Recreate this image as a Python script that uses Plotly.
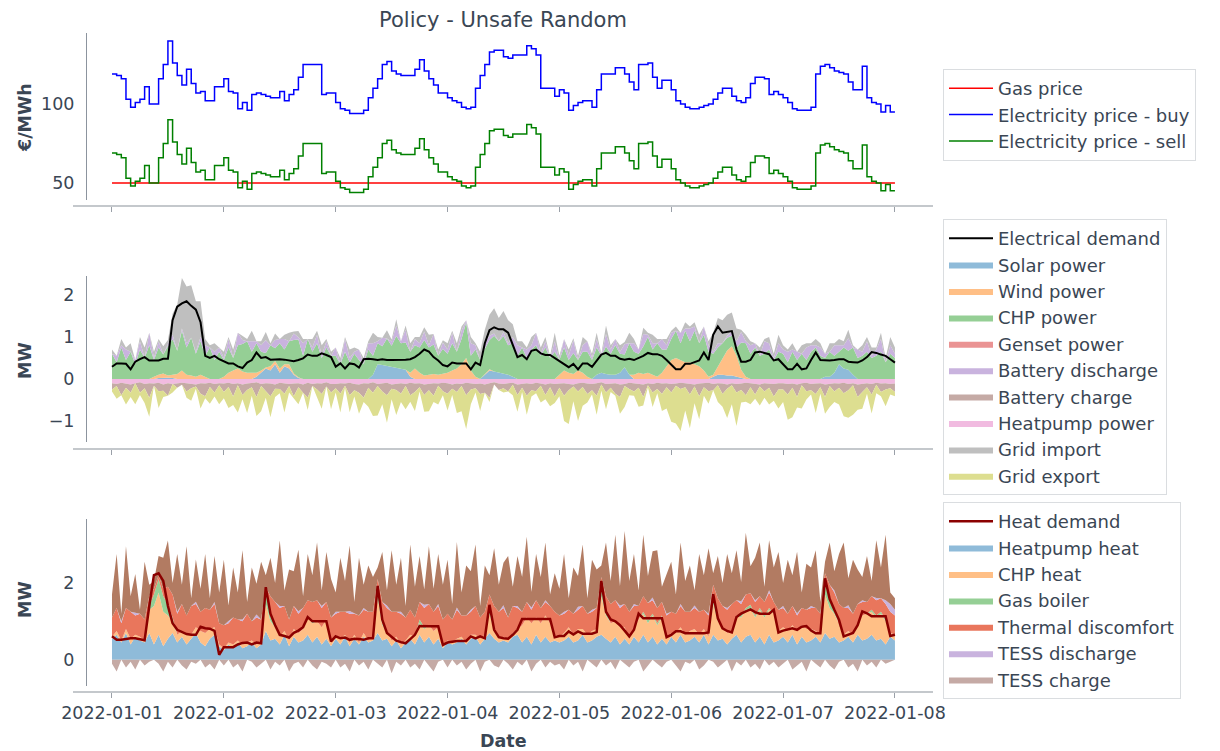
import pandas as pd
import plotly.graph_objects as go

# hourly timestamps, 2022-01-01 00:00 .. 2022-01-08 00:00
hours = pd.date_range("2022-01-01", periods=169, freq="h")

# ---- prices (EUR/MWh) ----
price_buy = [
    119, 118, 116, 103, 98, 101, 103, 111, 100, 100, 116, 125, 140, 126, 118, 112, 122, 113, 107, 108, 102, 102, 111, 111,
    116, 108, 107, 97, 101, 96, 106, 107, 106, 105, 104, 104, 108, 102, 106, 109, 117, 125, 125, 125, 125, 106, 107, 107,
    101, 97, 96, 94, 94, 94, 96, 104, 110, 116, 125, 127, 121, 119, 118, 118, 118, 122, 128, 121, 116, 112, 107, 107,
    104, 102, 101, 98, 97, 98, 110, 118, 125, 133, 134, 134, 130, 129, 131, 131, 131, 137, 135, 131, 110, 110, 110, 105,
    109, 107, 96, 99, 101, 102, 102, 98, 109, 119, 119, 119, 123, 123, 119, 114, 109, 125, 125, 126, 117, 110, 115, 115,
    109, 102, 100, 98, 97, 97, 98, 99, 100, 103, 107, 110, 110, 105, 102, 101, 104, 113, 117, 117, 116, 106, 108, 106,
    104, 101, 97, 96, 96, 96, 98, 119, 124, 125, 123, 121, 120, 119, 114, 109, 109, 124, 104, 101, 100, 95, 99, 95, 95,
]
price_sell = [
    69, 68, 66, 53, 48, 51, 53, 61, 50, 50, 66, 75, 90, 76, 68, 62, 72, 63, 57, 58, 52, 52, 61, 61,
    66, 58, 57, 47, 51, 46, 56, 57, 56, 55, 54, 54, 58, 52, 56, 59, 67, 75, 75, 75, 75, 56, 57, 57,
    51, 47, 46, 44, 44, 44, 46, 54, 60, 66, 75, 77, 71, 69, 68, 68, 68, 72, 78, 71, 66, 62, 57, 57,
    54, 52, 51, 48, 47, 48, 60, 68, 75, 83, 84, 84, 80, 79, 81, 81, 81, 87, 85, 81, 60, 60, 60, 55,
    59, 57, 46, 49, 51, 52, 52, 48, 59, 69, 69, 69, 73, 73, 69, 64, 59, 75, 75, 76, 67, 60, 65, 65,
    59, 52, 50, 48, 47, 47, 48, 49, 50, 53, 57, 60, 60, 55, 52, 51, 54, 63, 67, 67, 66, 56, 58, 56,
    54, 51, 47, 46, 46, 46, 48, 69, 74, 75, 73, 71, 70, 69, 64, 59, 59, 74, 54, 51, 50, 45, 49, 45, 45,
]
gas_dates = ["2022-01-01 00:00", "2022-01-08 00:00"]
gas_price = [50, 50]

# ---- electrical balance (MW) ----
elec_demand = [
    0.29, 0.37, 0.37, 0.36, 0.23, 0.41, 0.47, 0.52, 0.44, 0.44, 0.44, 0.48, 0.48, 1.40, 1.72, 1.80, 1.85, 1.74, 1.65, 1.35, 0.55, 0.50, 0.55, 0.47,
    0.41, 0.37, 0.37, 0.30, 0.26, 0.39, 0.45, 0.63, 0.50, 0.52, 0.46, 0.47, 0.47, 0.46, 0.44, 0.42, 0.45, 0.49, 0.58, 0.55, 0.55, 0.61, 0.57, 0.52,
    0.29, 0.37, 0.25, 0.37, 0.35, 0.27, 0.47, 0.48, 0.47, 0.45, 0.47, 0.45, 0.45, 0.45, 0.45, 0.46, 0.47, 0.52, 0.60, 0.70, 0.65, 0.52, 0.44, 0.33,
    0.30, 0.39, 0.37, 0.37, 0.37, 0.23, 0.39, 0.33, 0.85, 1.16, 1.23, 1.18, 1.18, 1.10, 0.80, 0.52, 0.57, 0.47, 0.67, 0.70, 0.61, 0.57, 0.57, 0.50,
    0.44, 0.35, 0.28, 0.36, 0.23, 0.37, 0.37, 0.29, 0.45, 0.58, 0.62, 0.55, 0.55, 0.48, 0.46, 0.48, 0.45, 0.50, 0.55, 0.62, 0.59, 0.59, 0.55, 0.45,
    0.35, 0.23, 0.23, 0.36, 0.36, 0.40, 0.44, 0.63, 0.45, 1.05, 1.25, 1.10, 1.12, 1.14, 0.70, 0.41, 0.41, 0.45, 0.63, 0.65, 0.62, 0.59, 0.44, 0.47,
    0.35, 0.23, 0.23, 0.36, 0.23, 0.25, 0.45, 0.63, 0.45, 0.44, 0.44, 0.45, 0.47, 0.47, 0.41, 0.40, 0.39, 0.44, 0.52, 0.64, 0.62, 0.58, 0.55, 0.47, 0.39,
]
solar_power = [
    0, 0, 0, 0, 0, 0, 0, 0, 0, 0, 0.02, 0.03, 0.03, 0.02, 0, 0, 0, 0, 0, 0, 0, 0, 0, 0,
    0, 0, 0, 0, 0, 0, 0, 0.05, 0.15, 0.25, 0.2, 0.35, 0.15, 0.3, 0.25, 0.1, 0.02, 0, 0, 0, 0, 0, 0, 0,
    0, 0, 0, 0, 0, 0, 0, 0, 0.1, 0.35, 0.33, 0.31, 0.29, 0.27, 0.25, 0.22, 0.05, 0, 0, 0, 0, 0, 0, 0,
    0, 0, 0, 0, 0, 0, 0, 0, 0.1, 0.2, 0.18, 0.15, 0.12, 0.1, 0.05, 0, 0, 0, 0, 0, 0, 0, 0, 0,
    0, 0, 0, 0, 0, 0, 0, 0, 0.1, 0.15, 0.12, 0.1, 0.1, 0.15, 0.28, 0.1, 0, 0, 0, 0, 0, 0, 0, 0,
    0, 0, 0, 0, 0, 0, 0, 0, 0, 0.05, 0.1, 0.1, 0.08, 0.08, 0.05, 0.02, 0, 0, 0, 0, 0, 0, 0, 0,
    0, 0, 0, 0, 0, 0, 0, 0, 0, 0.05, 0.05, 0.15, 0.35, 0.25, 0.22, 0.1, 0, 0, 0, 0, 0, 0, 0, 0, 0,
]
wind_power = [
    0, 0, 0, 0, 0, 0, 0, 0, 0, 0.05, 0.08, 0.1, 0.05, 0.08, 0.12, 0.2, 0.1, 0.08, 0.05, 0.1, 0.05, 0, 0, 0,
    0.05, 0.15, 0.2, 0.25, 0.18, 0.15, 0.15, 0.1, 0.05, 0.02, 0.1, 0.08, 0.1, 0.05, 0.1, 0.03, 0.02, 0, 0, 0, 0, 0, 0, 0,
    0, 0, 0, 0, 0, 0, 0, 0, 0, 0, 0, 0, 0, 0, 0, 0, 0.1, 0.25, 0.15, 0.08, 0.1, 0.12, 0.1, 0.12,
    0.15, 0.2, 0.25, 0.35, 0.5, 0.2, 0.05, 0, 0.02, 0.03, 0, 0, 0, 0, 0, 0, 0, 0, 0, 0, 0, 0, 0, 0,
    0.1, 0.2, 0.15, 0.12, 0.2, 0.15, 0.05, 0, 0, 0, 0, 0, 0, 0, 0, 0, 0.1, 0.15, 0.12, 0.15, 0.1, 0.05, 0.15, 0.3,
    0.45, 0.5, 0.45, 0.4, 0.4, 0.35, 0.3, 0.2, 0.05, 0.05, 0.2, 0.4, 0.6, 0.7, 0.5, 0.2, 0.05, 0, 0, 0, 0, 0, 0, 0,
    0, 0, 0, 0, 0, 0, 0, 0, 0, 0, 0, 0, 0, 0, 0, 0, 0, 0, 0, 0, 0, 0, 0, 0, 0,
]
chp_power = [
    0.6, 0.4, 0.75, 0.45, 0.65, 0.35, 0.7, 0.5, 0.8, 0.4, 0.65, 0.45, 0.7, 0.85, 0.55, 0.95, 0.65, 0.9, 0.55, 0.8, 0.5, 0.75, 0.45, 0.65,
    0.4, 0.6, 0.3, 0.55, 0.65, 0.75, 0.5, 0.7, 0.45, 0.35, 0.5, 0.3, 0.6, 0.35, 0.55, 0.8, 0.9, 0.55, 0.95, 0.65, 0.85, 0.5, 0.75, 0.55,
    0.55, 0.35, 0.65, 0.4, 0.6, 0.45, 0.35, 0.7, 0.45, 0.5, 0.45, 0.65, 0.5, 0.75, 0.6, 0.65, 0.5, 0.55, 0.6, 0.85, 0.65, 0.7, 0.45, 0.6,
    0.45, 0.65, 0.4, 0.6, 0.85, 0.35, 0.65, 0.45, 0.6, 0.7, 0.85, 0.75, 0.9, 0.7, 0.8, 0.55, 0.75, 0.5, 0.7, 0.8, 0.55, 0.75, 0.5, 0.65,
    0.35, 0.55, 0.3, 0.5, 0.25, 0.5, 0.6, 0.45, 0.65, 0.4, 0.65, 0.5, 0.7, 0.45, 0.3, 0.75, 0.55, 0.45, 0.65, 0.85, 0.6, 0.8, 0.55, 0.4,
    0.5, 0.65, 0.4, 0.75, 0.5, 0.8, 0.55, 0.85, 0.6, 0.5, 0.45, 0.35, 0.3, 0.25, 0.2, 0.65, 0.8, 0.6, 0.75, 0.55, 0.6, 0.7, 0.45, 0.65,
    0.6, 0.4, 0.65, 0.45, 0.6, 0.45, 0.65, 0.75, 0.55, 0.45, 0.6, 0.4, 0.3, 0.5, 0.45, 0.65, 0.5, 0.55, 0.65, 0.5, 0.55, 0.65, 0.4, 0.6, 0.5,
]
genset_power = [0.0] * 169
battery_discharge = [
    0, 0.15, 0.05, 0.25, 0, 0.1, 0.2, 0, 0.3, 0.05, 0.15, 0, 0.05, 0.1, 0, 0.05, 0.1, 0, 0.05, 0.1, 0.25, 0, 0.2, 0.1,
    0.05, 0.2, 0, 0.3, 0.1, 0, 0.25, 0.05, 0.15, 0.3, 0, 0.2, 0.1, 0.25, 0, 0.15, 0.05, 0.3, 0, 0.1, 0.2, 0.05, 0.15, 0,
    0.2, 0, 0.3, 0.1, 0.05, 0.25, 0, 0.15, 0.3, 0.05, 0.2, 0, 0.1, 0.25, 0.05, 0.3, 0, 0.15, 0.1, 0.2, 0.05, 0.25, 0, 0.15,
    0.1, 0.25, 0, 0.2, 0.05, 0.3, 0.1, 0, 0.15, 0.1, 0.05, 0, 0.1, 0.05, 0.15, 0.25, 0, 0.2, 0.1, 0.3, 0.05, 0.15, 0, 0.25,
    0, 0.2, 0.1, 0.3, 0, 0.15, 0.25, 0.05, 0.2, 0, 0.3, 0.1, 0.15, 0.05, 0.25, 0, 0.2, 0.1, 0.3, 0.05, 0.15, 0, 0.25, 0.1,
    0.15, 0, 0.25, 0.05, 0.3, 0.1, 0, 0.2, 0.15, 0.05, 0.1, 0, 0.05, 0.1, 0.15, 0.25, 0.05, 0.2, 0.1, 0, 0.3, 0.15, 0.05, 0.2,
    0.1, 0.25, 0.05, 0.2, 0, 0.3, 0.15, 0.05, 0.2, 0.1, 0, 0.25, 0.15, 0.05, 0.3, 0, 0.2, 0.1, 0.25, 0.05, 0.15, 0.3, 0, 0.2, 0.1,
]
grid_import = [
    0.1, 0, 0.15, 0.05, 0.2, 0, 0.1, 0.25, 0, 0.15, 0.05, 0.2, 0.1, 0.5, 1.1, 1.2, 1.35, 1.25, 1.2, 0.85, 0.15, 0.05, 0.2, 0,
    0.15, 0.05, 0.2, 0, 0.1, 0.05, 0.25, 0, 0.1, 0.2, 0.05, 0.15, 0, 0.1, 0.2, 0.05, 0.15, 0.1, 0, 0.2, 0.1, 0.25, 0.05, 0.1,
    0, 0.15, 0.05, 0.2, 0.1, 0, 0.15, 0.05, 0.25, 0.1, 0, 0.2, 0.05, 0.15, 0, 0.1, 0.2, 0.05, 0.15, 0.1, 0.25, 0, 0.15, 0.05,
    0.15, 0.05, 0.2, 0.1, 0, 0.15, 0.05, 0.2, 0.3, 0.5, 0.6, 0.55, 0.5, 0.55, 0.3, 0.1, 0.15, 0.05, 0.2, 0, 0.15, 0.1, 0.05, 0.2,
    0.1, 0, 0.15, 0.05, 0.1, 0.2, 0, 0.1, 0.15, 0.05, 0.2, 0.1, 0, 0.15, 0.05, 0.25, 0.1, 0, 0.15, 0.05, 0.2, 0.1, 0, 0.15,
    0.05, 0.1, 0, 0.15, 0.05, 0.1, 0.2, 0, 0.1, 0.45, 0.6, 0.55, 0.5, 0.45, 0.3, 0.05, 0.15, 0.1, 0, 0.2, 0.05, 0.15, 0.1, 0.2,
    0.1, 0.05, 0.15, 0, 0.2, 0.1, 0.05, 0.15, 0.1, 0, 0.2, 0.05, 0.15, 0.1, 0.2, 0.05, 0, 0.15, 0.1, 0.2, 0.05, 0.15, 0.1, 0.2, 0.15,
]
heatpump_power = [
    -0.1, -0.12, -0.09, -0.11, -0.13, -0.1, -0.08, -0.12, -0.1, -0.11, -0.09, -0.13, -0.1, -0.12, -0.11, -0.09, -0.1, -0.12, -0.13, -0.1, -0.11, -0.09, -0.12, -0.1,
    -0.11, -0.09, -0.12, -0.1, -0.13, -0.11, -0.1, -0.08, -0.12, -0.1, -0.11, -0.13, -0.09, -0.1, -0.12, -0.11, -0.1, -0.13, -0.09, -0.12, -0.1, -0.11, -0.08, -0.12,
    -0.12, -0.1, -0.11, -0.09, -0.12, -0.13, -0.1, -0.11, -0.08, -0.12, -0.1, -0.09, -0.13, -0.11, -0.1, -0.12, -0.09, -0.11, -0.1, -0.13, -0.12, -0.1, -0.11, -0.09,
    -0.1, -0.13, -0.11, -0.12, -0.09, -0.1, -0.12, -0.11, -0.13, -0.1, -0.08, -0.11, -0.12, -0.1, -0.09, -0.13, -0.11, -0.1, -0.12, -0.09, -0.11, -0.13, -0.1, -0.12,
    -0.11, -0.1, -0.12, -0.13, -0.1, -0.09, -0.11, -0.12, -0.1, -0.08, -0.12, -0.11, -0.1, -0.13, -0.12, -0.09, -0.1, -0.11, -0.13, -0.1, -0.12, -0.09, -0.11, -0.1,
    -0.12, -0.11, -0.09, -0.1, -0.12, -0.13, -0.11, -0.1, -0.09, -0.12, -0.1, -0.11, -0.13, -0.1, -0.12, -0.11, -0.09, -0.1, -0.12, -0.13, -0.1, -0.11, -0.12, -0.1,
    -0.1, -0.12, -0.11, -0.13, -0.1, -0.09, -0.12, -0.11, -0.1, -0.13, -0.12, -0.1, -0.11, -0.09, -0.12, -0.1, -0.13, -0.11, -0.1, -0.12, -0.09, -0.11, -0.1, -0.12, -0.11,
]
battery_charge = [
    -0.15, -0.05, -0.3, -0.1, -0.2, 0, -0.25, -0.1, -0.35, -0.05, -0.2, -0.15, -0.3, 0, -0.1, -0.05, -0.2, -0.1, -0.05, -0.25, -0.3, -0.1, -0.2, -0.05,
    -0.2, -0.1, -0.3, -0.05, -0.25, -0.15, -0.1, -0.35, -0.05, -0.2, -0.3, -0.1, -0.15, -0.25, -0.05, -0.3, -0.1, -0.2, -0.35, -0.05, -0.15, -0.25, -0.1, -0.2,
    -0.1, -0.25, -0.05, -0.3, -0.15, -0.2, -0.35, -0.1, -0.25, -0.05, -0.2, -0.3, -0.1, -0.15, -0.25, -0.05, -0.3, -0.2, -0.1, -0.25, -0.15, -0.3, -0.05, -0.2,
    -0.25, -0.1, -0.2, -0.05, -0.3, -0.15, -0.1, -0.25, -0.2, -0.35, -0.05, -0.15, -0.1, -0.2, -0.05, -0.25, -0.1, -0.3, -0.15, -0.2, -0.05, -0.25, -0.1, -0.3,
    -0.1, -0.3, -0.15, -0.05, -0.2, -0.1, -0.25, -0.15, -0.3, -0.05, -0.2, -0.1, -0.25, -0.3, -0.05, -0.15, -0.2, -0.1, -0.3, -0.05, -0.2, -0.15, -0.25, -0.1,
    -0.2, -0.05, -0.15, -0.1, -0.25, -0.05, -0.3, -0.1, -0.2, -0.15, -0.05, -0.25, -0.1, -0.05, -0.2, -0.15, -0.3, -0.1, -0.25, -0.05, -0.2, -0.1, -0.3, -0.15,
    -0.15, -0.25, -0.1, -0.3, -0.05, -0.2, -0.15, -0.25, -0.1, -0.3, -0.05, -0.2, -0.1, -0.25, -0.15, -0.05, -0.3, -0.2, -0.1, -0.25, -0.05, -0.2, -0.15, -0.1, -0.2,
]
grid_export = [
    -0.05, -0.3, 0, -0.4, -0.1, -0.5, -0.05, -0.35, -0.45, 0, -0.4, -0.15, 0, -0.2, 0, 0, -0.15, -0.3, -0.05, -0.35, -0.05, -0.4, -0.1, -0.45,
    -0.15, -0.5, -0.2, -0.65, -0.1, -0.55, -0.2, -0.45, -0.6, -0.15, -0.5, -0.2, -0.1, -0.45, -0.15, -0.05, -0.4, 0, -0.3, 0, -0.2, -0.35, 0, -0.4,
    -0.1, -0.45, -0.05, -0.4, -0.15, -0.5, -0.1, -0.45, -0.55, -0.7, -0.3, -0.65, -0.25, -0.6, -0.2, -0.55, -0.15, -0.45, -0.1, -0.4, -0.5, -0.15, -0.45, -0.1,
    -0.4, -0.15, -0.5, -0.6, -0.8, -0.35, -0.1, -0.4, 0, -0.1, 0, 0, -0.1, 0, -0.25, -0.4, -0.1, -0.45, -0.15, -0.05, -0.4, -0.1, -0.45, -0.15,
    -0.2, -0.6, -0.8, -0.35, -0.7, -0.45, -0.2, -0.1, -0.45, -0.15, -0.4, -0.1, -0.05, -0.4, -0.5, -0.15, -0.1, -0.45, -0.2, -0.05, -0.35, -0.1, -0.4, -0.5,
    -0.7, -0.9, -1.0, -0.55, -0.8, -0.4, -0.55, -0.2, -0.3, 0, -0.4, -0.3, -0.7, -0.45, -0.8, -0.3, -0.15, -0.4, -0.1, -0.45, -0.15, -0.4, -0.1, -0.45,
    -0.3, -0.6, -0.7, -0.25, -0.55, -0.2, -0.1, -0.45, -0.15, -0.4, -0.5, -0.25, -0.4, -0.55, -0.65, -0.7, -0.3, -0.4, -0.15, -0.45, -0.2, -0.1, -0.4, -0.15, -0.1,
]

# ---- heat balance (MW) ----
heat_demand = [
    0.61, 0.52, 0.52, 0.54, 0.56, 0.56, 0.53, 0.51, 1.40, 2.20, 2.25, 2.05, 1.40, 0.95, 0.78, 0.72, 0.67, 0.65, 0.65, 0.86, 0.82, 0.81, 0.75, 0.13,
    0.33, 0.33, 0.33, 0.40, 0.44, 0.45, 0.40, 0.45, 0.43, 1.89, 1.20, 0.90, 0.65, 0.62, 0.58, 0.70, 0.76, 0.85, 1.11, 1.00, 1.00, 1.00, 1.00, 0.48,
    0.61, 0.56, 0.58, 0.52, 0.55, 0.54, 0.52, 0.56, 0.56, 1.92, 1.04, 0.70, 0.60, 0.50, 0.46, 0.43, 0.54, 0.65, 0.88, 0.87, 0.87, 0.87, 0.87, 0.39,
    0.45, 0.47, 0.49, 0.49, 0.49, 0.61, 0.56, 0.61, 0.56, 1.43, 0.78, 0.59, 0.56, 0.55, 0.65, 0.78, 1.06, 1.06, 1.06, 1.06, 1.06, 1.06, 1.06, 0.59,
    0.62, 0.62, 0.74, 0.66, 0.74, 0.68, 0.68, 0.68, 0.72, 2.05, 1.25, 1.05, 1.00, 0.90, 0.76, 0.61, 0.78, 1.20, 1.08, 1.08, 1.08, 1.08, 1.08, 0.59,
    0.65, 0.74, 0.74, 0.69, 0.69, 0.69, 0.69, 0.69, 0.71, 1.71, 1.08, 0.82, 0.75, 0.71, 1.11, 1.20, 1.26, 1.31, 1.24, 1.20, 1.20, 1.20, 1.30, 0.71,
    0.76, 0.80, 0.82, 0.78, 0.86, 0.88, 0.76, 0.69, 0.69, 2.12, 1.58, 1.30, 1.04, 0.61, 0.65, 0.70, 0.90, 1.26, 1.21, 1.13, 1.13, 1.13, 1.13, 0.62, 0.65,
]
heatpump_heat = [
    0.55, 0.65, 0.45, 0.7, 0.4, 0.6, 0.5, 0.45, 0.7, 0.4, 0.65, 0.35, 0.55, 0.7, 0.45, 0.6, 0.4, 0.55, 0.7, 0.45, 0.35, 0.55, 0.65, 0.35,
    0.25, 0.4, 0.3, 0.45, 0.3, 0.35, 0.45, 0.3, 0.4, 0.75, 0.5, 0.55, 0.4, 0.65, 0.35, 0.6, 0.45, 0.5, 0.65, 0.45, 0.6, 0.4, 0.55, 0.35,
    0.55, 0.4, 0.6, 0.35, 0.55, 0.4, 0.6, 0.45, 0.5, 0.7, 0.5, 0.55, 0.35, 0.5, 0.3, 0.45, 0.55, 0.4, 0.65, 0.45, 0.6, 0.4, 0.55, 0.3,
    0.45, 0.4, 0.45, 0.55, 0.4, 0.55, 0.6, 0.4, 0.55, 0.7, 0.55, 0.45, 0.5, 0.45, 0.6, 0.65, 0.45, 0.6, 0.4, 0.65, 0.45, 0.6, 0.45, 0.5,
    0.45, 0.5, 0.6, 0.45, 0.5, 0.65, 0.45, 0.5, 0.6, 0.65, 0.55, 0.45, 0.6, 0.4, 0.55, 0.4, 0.6, 0.45, 0.65, 0.45, 0.6, 0.4, 0.55, 0.4,
    0.6, 0.45, 0.65, 0.45, 0.5, 0.6, 0.45, 0.65, 0.4, 0.65, 0.5, 0.55, 0.4, 0.55, 0.65, 0.45, 0.6, 0.65, 0.45, 0.6, 0.4, 0.65, 0.45, 0.5,
    0.6, 0.45, 0.65, 0.4, 0.6, 0.45, 0.5, 0.6, 0.45, 0.7, 0.55, 0.6, 0.45, 0.5, 0.6, 0.45, 0.65, 0.5, 0.55, 0.65, 0.5, 0.55, 0.4, 0.6, 0.5,
]
chp_heat = [
    0.05, 0.1, 0.05, 0.1, 0.15, 0.05, 0.1, 0.05, 0.6, 1.0, 1.1, 0.9, 0.6, 0.3, 0.2, 0.15, 0.25, 0.1, 0.15, 0.3, 0.35, 0.25, 0.2, 0.05,
    0.05, 0.05, 0.1, 0.05, 0.1, 0.1, 0.05, 0.1, 0.05, 0.7, 0.5, 0.3, 0.2, 0.1, 0.15, 0.2, 0.25, 0.3, 0.45, 0.5, 0.4, 0.45, 0.5, 0.1,
    0.1, 0.15, 0.05, 0.1, 0.1, 0.05, 0.1, 0.05, 0.1, 0.9, 0.4, 0.2, 0.15, 0.1, 0.1, 0.05, 0.1, 0.2, 0.3, 0.35, 0.3, 0.35, 0.3, 0.05,
    0.05, 0.05, 0.1, 0.05, 0.05, 0.1, 0.05, 0.15, 0.1, 0.5, 0.2, 0.1, 0.1, 0.05, 0.1, 0.15, 0.45, 0.5, 0.55, 0.45, 0.5, 0.55, 0.5, 0.15,
    0.15, 0.2, 0.25, 0.2, 0.3, 0.15, 0.2, 0.25, 0.2, 1.0, 0.6, 0.5, 0.4, 0.45, 0.3, 0.15, 0.25, 0.6, 0.55, 0.5, 0.55, 0.5, 0.55, 0.15,
    0.1, 0.25, 0.2, 0.2, 0.25, 0.2, 0.2, 0.15, 0.2, 0.8, 0.5, 0.3, 0.3, 0.2, 0.5, 0.65, 0.7, 0.7, 0.65, 0.7, 0.7, 0.65, 0.75, 0.25,
    0.25, 0.3, 0.25, 0.35, 0.3, 0.35, 0.3, 0.15, 0.2, 1.0, 0.8, 0.6, 0.45, 0.15, 0.15, 0.2, 0.3, 0.65, 0.65, 0.6, 0.6, 0.65, 0.6, 0.1, 0.15,
]
gas_boiler = [
    0, 0, 0, 0, 0, 0, 0, 0, 0.1, 0.3, 0.35, 0.4, 0.3, 0.1, 0, 0, 0, 0, 0, 0, 0, 0, 0, 0,
    0, 0, 0, 0, 0, 0, 0, 0, 0, 0.3, 0.2, 0.05, 0, 0, 0, 0, 0, 0, 0.05, 0.05, 0, 0, 0, 0,
    0, 0, 0, 0, 0, 0, 0, 0, 0, 0.3, 0.05, 0, 0, 0, 0, 0, 0, 0, 0.1, 0.05, 0, 0, 0, 0,
    0, 0, 0, 0, 0, 0, 0, 0, 0, 0.2, 0.05, 0, 0, 0, 0, 0, 0, 0, 0, 0, 0, 0, 0, 0,
    0, 0, 0, 0, 0, 0, 0, 0, 0, 0.3, 0.1, 0, 0, 0, 0, 0, 0, 0, 0.05, 0.08, 0.05, 0.05, 0.05, 0,
    0, 0, 0, 0, 0, 0, 0, 0, 0, 0.3, 0.1, 0, 0, 0, 0, 0.05, 0.05, 0.08, 0.05, 0.05, 0.05, 0.05, 0, 0,
    0, 0, 0, 0, 0, 0, 0, 0, 0, 0.4, 0.3, 0.1, 0, 0, 0, 0, 0, 0, 0, 0.05, 0.05, 0.05, 0.05, 0, 0,
]
thermal_discomfort = [
    0.5, 0.6, 0.45, 0.55, 0.7, 0.5, 0.6, 0.55, 0.25, 0.15, 0.1, 0.2, 0.45, 0.6, 0.55, 0.7, 0.5, 0.75, 0.6, 0.5, 0.65, 0.5, 0.6, 0.55,
    0.6, 0.5, 0.7, 0.55, 0.6, 0.75, 0.5, 0.7, 0.6, 0.15, 0.45, 0.6, 0.75, 0.65, 0.55, 0.6, 0.5, 0.55, 0.4, 0.5, 0.55, 0.5, 0.45, 0.65,
    0.55, 0.7, 0.6, 0.75, 0.55, 0.7, 0.6, 0.75, 0.65, 0.2, 0.55, 0.6, 0.75, 0.65, 0.8, 0.6, 0.65, 0.5, 0.45, 0.5, 0.55, 0.5, 0.55, 0.7,
    0.7, 0.6, 0.75, 0.55, 0.7, 0.6, 0.75, 0.55, 0.6, 0.3, 0.6, 0.7, 0.75, 0.6, 0.7, 0.55, 0.35, 0.4, 0.35, 0.45, 0.4, 0.35, 0.45, 0.6,
    0.55, 0.5, 0.45, 0.55, 0.5, 0.6, 0.55, 0.5, 0.55, 0.2, 0.4, 0.5, 0.55, 0.5, 0.6, 0.7, 0.55, 0.35, 0.4, 0.45, 0.35, 0.4, 0.35, 0.6,
    0.55, 0.5, 0.55, 0.6, 0.5, 0.55, 0.6, 0.5, 0.55, 0.2, 0.5, 0.55, 0.6, 0.7, 0.4, 0.3, 0.35, 0.3, 0.35, 0.3, 0.35, 0.4, 0.3, 0.55,
    0.5, 0.45, 0.5, 0.4, 0.45, 0.5, 0.55, 0.6, 0.55, 0.15, 0.3, 0.45, 0.55, 0.7, 0.6, 0.55, 0.5, 0.35, 0.3, 0.35, 0.4, 0.35, 0.4, 0.55, 0.5,
]
tess_discharge = [
    0, 0, 0.05, 0, 0, 0.08, 0, 0, 0, 0, 0, 0, 0, 0, 0.05, 0, 0, 0, 0.06, 0, 0, 0, 0.05, 0,
    0, 0.06, 0, 0, 0.05, 0, 0, 0.08, 0, 0, 0, 0, 0.05, 0, 0, 0, 0.06, 0, 0, 0, 0, 0.05, 0, 0,
    0.05, 0, 0, 0.07, 0, 0, 0.05, 0, 0, 0, 0, 0.06, 0, 0, 0.05, 0, 0, 0, 0, 0.08, 0, 0, 0.05, 0,
    0, 0, 0.06, 0, 0, 0.05, 0, 0, 0, 0, 0, 0, 0.07, 0, 0, 0.05, 0, 0, 0.06, 0, 0, 0.05, 0, 0,
    0, 0.05, 0, 0, 0.08, 0, 0, 0.05, 0, 0, 0, 0, 0, 0.06, 0, 0, 0.05, 0, 0, 0, 0.07, 0, 0, 0.05,
    0, 0, 0.05, 0, 0, 0.06, 0, 0, 0.05, 0, 0, 0, 0.05, 0, 0, 0.07, 0, 0, 0.05, 0, 0, 0.06, 0, 0,
    0.05, 0, 0, 0.06, 0, 0, 0.05, 0, 0, 0, 0, 0.05, 0, 0, 0.07, 0, 0, 0.05, 0, 0, 0.06, 0, 0.1, 0.2, 0.15,
]
# heat sent into the storage: spiky band on top of the stack ...
tess_charge_top = [
    0.6, 1.4, 0.2, 1.6, 0.4, 1.0, 0.1, 1.5, 0.3, 0.2, 0.5, 0.8, 1.2, 0.3, 1.5, 0.5, 1.8, 0.2, 1.1, 0.6, 1.4, 0.3, 1.2, 0.8,
    1.7, 0.4, 1.3, 0.7, 1.8, 0.3, 1.4, 0.8, 1.5, 0.3, 1.0, 0.5, 1.7, 0.4, 1.3, 0.9, 1.6, 0.3, 1.2, 0.7, 1.5, 0.4, 1.3, 1.0,
    0.5, 1.4, 0.8, 1.7, 0.3, 1.5, 0.6, 1.2, 0.9, 0.3, 1.3, 0.4, 1.6, 0.7, 1.4, 0.3, 1.7, 0.8, 1.2, 0.4, 1.5, 0.6, 1.3, 0.9,
    1.4, 0.4, 1.7, 0.6, 1.3, 1.0, 1.6, 0.3, 1.2, 0.5, 1.5, 0.7, 1.1, 1.6, 0.5, 1.3, 0.9, 1.7, 0.4, 1.2, 0.8, 1.5, 0.3, 1.0,
    0.7, 1.5, 0.3, 1.2, 0.8, 1.6, 0.4, 1.3, 1.0, 0.3, 1.4, 0.6, 1.7, 0.5, 1.9, 0.8, 1.3, 0.4, 1.6, 0.7, 1.2, 1.5, 0.4, 1.0,
    1.3, 0.5, 1.6, 0.8, 1.2, 0.4, 1.5, 0.9, 1.7, 0.3, 1.1, 0.6, 1.4, 0.8, 1.3, 0.5, 1.6, 0.7, 1.1, 1.4, 0.4, 1.3, 0.9, 1.5,
    0.6, 1.4, 0.8, 1.6, 0.4, 1.2, 1.0, 1.5, 0.3, 0.3, 1.1, 0.5, 1.3, 1.7, 0.7, 1.4, 0.9, 0.6, 1.2, 0.4, 1.5, 0.8, 1.7, 0.3, 0.3,
]
# ... and the part drawn below zero
tess_charge = [
    -0.1, -0.3, 0, -0.2, -0.05, -0.25, 0, -0.15, -0.05, 0, -0.1, -0.3, -0.05, -0.2, 0, -0.15, -0.25, -0.05, -0.1, 0, -0.2, -0.1, -0.25, 0,
    -0.15, 0, -0.2, -0.1, -0.3, 0, -0.05, -0.2, -0.1, 0, -0.25, -0.05, -0.15, 0, -0.3, -0.1, -0.05, -0.2, 0, -0.15, -0.25, -0.05, -0.1, -0.2,
    0, -0.2, -0.1, -0.3, 0, -0.15, -0.05, -0.25, 0, -0.1, -0.2, 0, -0.35, -0.05, -0.15, 0, -0.2, -0.1, -0.25, 0, -0.15, -0.3, -0.05, 0,
    -0.2, 0, -0.15, -0.05, -0.25, -0.1, 0, -0.3, -0.05, 0, -0.15, -0.2, 0, -0.1, -0.25, -0.05, -0.15, 0, -0.3, -0.1, 0, -0.2, -0.05, -0.15,
    -0.1, -0.25, 0, -0.15, -0.05, -0.3, 0, -0.1, -0.2, 0, -0.15, -0.05, -0.25, 0, -0.1, -0.2, -0.05, 0, -0.3, -0.15, 0, -0.1, -0.2, -0.05,
    0, -0.15, -0.3, -0.05, -0.1, 0, -0.25, -0.15, 0, -0.05, -0.2, -0.1, 0, -0.3, -0.05, -0.15, 0, -0.2, -0.1, -0.25, 0, -0.15, -0.05, -0.2,
    -0.1, 0, -0.25, -0.15, -0.05, -0.3, 0, -0.1, -0.2, 0, -0.15, -0.25, -0.05, 0, -0.2, -0.1, -0.3, 0, -0.15, -0.05, -0.2, 0, -0.1, -0.05, 0,
]

for name, arr in [("buy", price_buy), ("sell", price_sell), ("demand", elec_demand), ("solar", solar_power),
                  ("wind", wind_power), ("chp", chp_power), ("bdis", battery_discharge), ("gimp", grid_import),
                  ("hp", heatpump_power), ("bch", battery_charge), ("gexp", grid_export), ("heat", heat_demand),
                  ("hph", heatpump_heat), ("chph", chp_heat), ("gb", gas_boiler), ("td", thermal_discomfort),
                  ("tdis", tess_discharge), ("ttop", tess_charge_top), ("tch", tess_charge)]:
    assert len(arr) == 169, (name, len(arr))

TEXT = "#3a4654"
FONT = "DejaVu Sans"
W, H = 1220, 751


def px_x(p):
    return p / W


def px_y(p):
    return 1 - p / H


fig = go.Figure()

# ---- panel 1: prices ----
fig.add_trace(go.Scatter(x=gas_dates, y=gas_price, name="Gas price", mode="lines",
                         line=dict(color="#ff0000", width=1.5), xaxis="x", yaxis="y", legend="legend"))
fig.add_trace(go.Scatter(x=hours, y=price_buy, name="Electricity price - buy", mode="lines",
                         line=dict(color="#0000ff", width=1.5, shape="hv"), xaxis="x", yaxis="y", legend="legend"))
fig.add_trace(go.Scatter(x=hours, y=price_sell, name="Electricity price - sell", mode="lines",
                         line=dict(color="#008000", width=1.5, shape="hv"), xaxis="x", yaxis="y", legend="legend"))

# ---- panel 2: electricity ----
elec_pos = [
    ("Solar power", solar_power, "#8fbbd9", 2),
    ("Wind power", wind_power, "#ffbf86", 3),
    ("CHP power", chp_power, "#95cf95", 4),
    ("Genset power", genset_power, "#ea9393", 5),
    ("Battery discharge", battery_discharge, "#c9b3de", 6),
    ("Grid import", grid_import, "#bfbfbf", 9),
]
elec_neg = [
    ("Heatpump power", heatpump_power, "#f1bbe0", 8),
    ("Battery charge", battery_charge, "#c5aaa5", 7),
    ("Grid export", grid_export, "#ddde90", 10),
]
for group, series in [("epos", elec_pos), ("eneg", elec_neg)]:
    for name, vals, col, rank in series:
        fig.add_trace(go.Scatter(x=hours, y=vals, name=name, mode="lines", stackgroup=group,
                                 line=dict(width=0, color=col), fillcolor=col,
                                 xaxis="x2", yaxis="y2", legend="legend2", legendrank=rank))
fig.add_trace(go.Scatter(x=hours, y=elec_demand, name="Electrical demand", mode="lines",
                         line=dict(color="black", width=2), xaxis="x2", yaxis="y2",
                         legend="legend2", legendrank=1))

# ---- panel 3: heat ----
heat_pos = [
    ("Heatpump heat", heatpump_heat, "#8fbbd9", 2, True),
    ("CHP heat", chp_heat, "#ffbf86", 3, True),
    ("Gas boiler", gas_boiler, "#95cf95", 4, True),
    ("Thermal discomfort", thermal_discomfort, "#e9765c", 5, True),
    ("TESS discharge", tess_discharge, "#c9b3de", 6, True),
    ("TESS charge", tess_charge_top, "#b27b62", 7, False),
]
for name, vals, col, rank, show in heat_pos:
    fig.add_trace(go.Scatter(x=hours, y=vals, name=name, mode="lines", stackgroup="hpos",
                             line=dict(width=0, color=col), fillcolor=col, showlegend=show,
                             legendgroup=name, xaxis="x3", yaxis="y3", legend="legend3", legendrank=rank))
fig.add_trace(go.Scatter(x=hours, y=tess_charge, name="TESS charge", mode="lines", stackgroup="hneg",
                         line=dict(width=0, color="#c5aaa5"), fillcolor="#c5aaa5", legendgroup="TESS charge",
                         xaxis="x3", yaxis="y3", legend="legend3", legendrank=7))
fig.add_trace(go.Scatter(x=hours, y=heat_demand, name="Heat demand", mode="lines",
                         line=dict(color="#8b0000", width=2.5), xaxis="x3", yaxis="y3",
                         legend="legend3", legendrank=1))

# ---- axes ----
x_range = ["2021-12-31 15:38", "2022-01-08 08:10"]
x_dom = [px_x(73), px_x(933)]
xcommon = dict(range=x_range, domain=x_dom, anchor="free", type="date", dtick=86400000,
               tick0="2022-01-01", tickformat="%Y-%m-%d", showgrid=False, zeroline=False,
               showline=True, linecolor="#c4c8cc", linewidth=2, ticks="outside", ticklen=5,
               tickcolor="#9aa0a8", automargin=False,
               tickfont=dict(family=FONT, size=17.5, color=TEXT))
ycommon = dict(anchor="free", position=px_x(86), showgrid=False, zeroline=False, showline=True,
               linecolor="#8c949e", linewidth=1, ticks="", ticklabelstandoff=8, automargin=False,
               tickfont=dict(family=FONT, size=17.5, color=TEXT))

fig.update_layout(
    xaxis=dict(xcommon, position=px_y(206), showticklabels=False),
    xaxis2=dict(xcommon, position=px_y(449), showticklabels=False),
    xaxis3=dict(xcommon, position=px_y(692)),
    yaxis=dict(ycommon, domain=[px_y(200), px_y(33)], range=[39.2, 145], tickvals=[50, 100]),
    yaxis2=dict(ycommon, domain=[px_y(442), px_y(276)], range=[-1.5, 2.45], tickvals=[-1, 0, 1, 2]),
    yaxis3=dict(ycommon, domain=[px_y(686), px_y(519)], range=[-0.68, 3.66], tickvals=[0, 2]),
)

legend_style = dict(x=px_x(943), xanchor="left", yanchor="top", bgcolor="white",
                    bordercolor="#dadde0", borderwidth=1, traceorder="normal", itemwidth=44,
                    entrywidth=285, tracegroupgap=0, font=dict(family=FONT, size=18, color=TEXT))
fig.update_layout(
    legend=dict(legend_style, y=px_y(69)),
    legend2=dict(legend_style, y=px_y(219)),
    legend3=dict(legend_style, y=px_y(502)),
)

ann_font = dict(family=FONT, size=17.5, color=TEXT)
fig.update_layout(
    template="none",
    width=W,
    height=H,
    autosize=False,
    title=dict(text="Policy - Unsafe Random", x=px_x(503), y=px_y(20), xanchor="center", yanchor="middle",
               font=dict(family=FONT, size=21, color=TEXT)),
    margin=dict(l=0, r=0, t=0, b=0, autoexpand=False),
    plot_bgcolor="white",
    paper_bgcolor="white",
    font=dict(family=FONT, color=TEXT),
    annotations=[
        dict(text="<b>€/MWh</b>", x=px_x(25), y=px_y(117), xref="paper", yref="paper", textangle=-90,
             xanchor="center", yanchor="middle", showarrow=False, font=ann_font),
        dict(text="<b>MW</b>", x=px_x(25), y=px_y(360), xref="paper", yref="paper", textangle=-90,
             xanchor="center", yanchor="middle", showarrow=False, font=ann_font),
        dict(text="<b>MW</b>", x=px_x(25), y=px_y(599), xref="paper", yref="paper", textangle=-90,
             xanchor="center", yanchor="middle", showarrow=False, font=ann_font),
        dict(text="<b>Date</b>", x=px_x(503), y=px_y(741), xref="paper", yref="paper",
             xanchor="center", yanchor="middle", showarrow=False, font=ann_font),
    ],
)

# page body has a default margin; drop it so the 1220x751 figure fills the window
fig.write_html("out.html", config={"displayModeBar": False},
               post_script="document.body.style.margin='0';document.body.style.overflow='hidden';")
